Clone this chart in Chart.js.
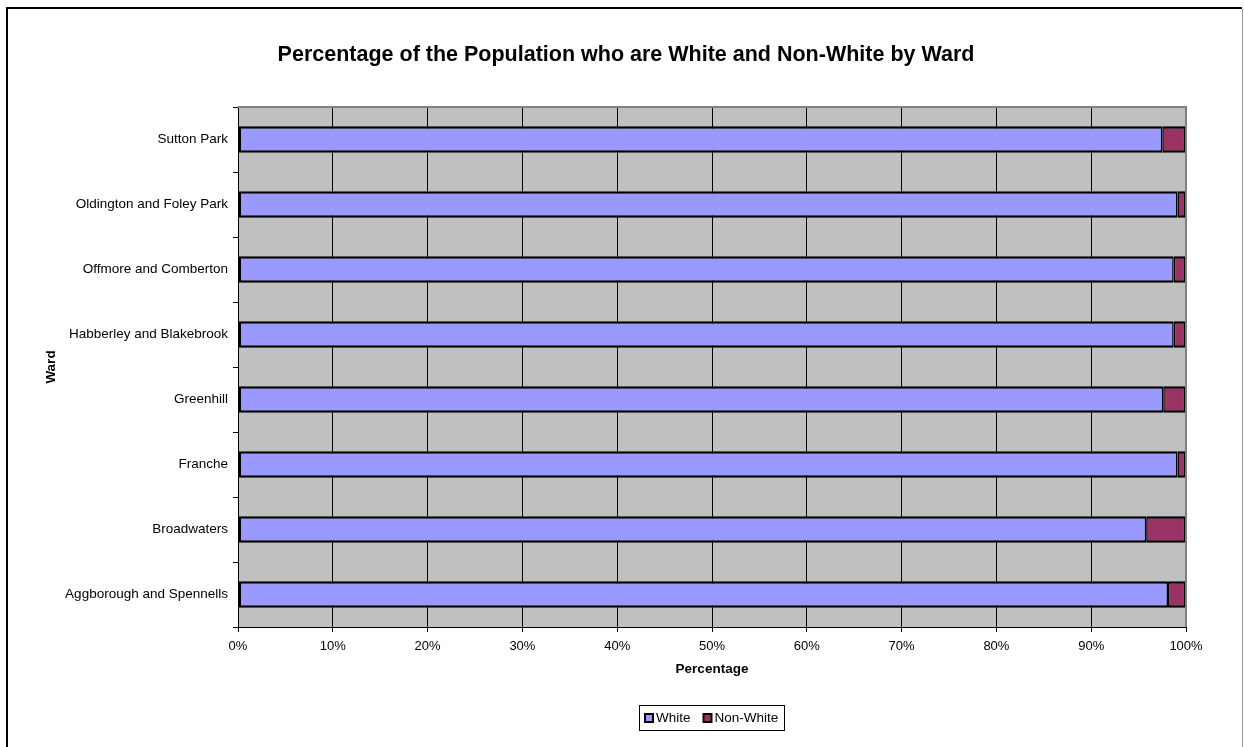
<!DOCTYPE html>
<html>
<head>
<meta charset="utf-8">
<title>White and Non-White by Ward</title>
<script src="https://cdn.jsdelivr.net/npm/chart.js@4"></script>
<style>
    html, body { margin: 0; padding: 0; background: #fff; }
    canvas { display: block; }
</style>
</head>
<body>
<canvas id="wardChart" width="1244" height="747"></canvas>
<script>
// Chart data (top to bottom as shown)
const wards = [
    'Sutton Park',
    'Oldington and Foley Park',
    'Offmore and Comberton',
    'Habberley and Blakebrook',
    'Greenhill',
    'Franche',
    'Broadwaters',
    'Aggborough and Spennells'
];
const whitePct = [97.5, 99.1, 98.7, 98.7, 97.6, 99.1, 95.8, 98.1];
const nonWhitePct = [2.5, 0.9, 1.3, 1.3, 2.4, 0.9, 4.2, 1.9];
const seriesNames = ['White', 'Non-White'];
const chartTitle = 'Percentage of the Population who are White and Non-White by Ward';

const FONT = "'Liberation Sans', Arial, sans-serif";
const colors = ['#9999FF', '#993366'];

// Frame, grey plot background, plot border, title and legend
const decorPlugin = {
    id: 'decor',
    beforeDraw(chart) {
        const ctx = chart.ctx;
        const a = chart.chartArea;
        ctx.save();
        ctx.fillStyle = '#fff';
        ctx.fillRect(0, 0, chart.width, chart.height);
        // outer frame
        ctx.strokeStyle = '#000';
        ctx.lineWidth = 2;
        ctx.beginPath();
        ctx.moveTo(7, chart.height + 5);
        ctx.lineTo(7, 8);
        ctx.lineTo(1242, 8);
        ctx.stroke();
        ctx.strokeStyle = '#999';
        ctx.lineWidth = 1;
        ctx.beginPath();
        ctx.moveTo(1242.5, 9);
        ctx.lineTo(1242.5, chart.height);
        ctx.stroke();
        // plot area
        ctx.fillStyle = '#C0C0C0';
        ctx.fillRect(a.left, a.top, a.right - a.left, a.bottom - a.top);
        ctx.restore();
    },
    afterDraw(chart) {
        const ctx = chart.ctx;
        const a = chart.chartArea;
        ctx.save();
        // grey top and right border of plot area
        ctx.strokeStyle = '#808080';
        ctx.lineWidth = 2;
        ctx.beginPath();
        ctx.moveTo(a.left, a.top);
        ctx.lineTo(a.right, a.top);
        ctx.lineTo(a.right, a.bottom);
        ctx.stroke();

        // title
        ctx.fillStyle = '#000';
        ctx.font = 'bold 21.5px ' + FONT;
        ctx.textAlign = 'center';
        ctx.textBaseline = 'middle';
        ctx.fillText(chartTitle, 626, 55);

        // legend
        ctx.font = '13.5px ' + FONT;
        const sw = 8, gap = 3, itemGap = 13, padX = 6;
        const widths = seriesNames.map(n => ctx.measureText(n).width);
        let total = padX * 2;
        widths.forEach((w, i) => { total += sw + gap + w + (i ? itemGap : 0); });
        const cx = (a.left + a.right) / 2;
        const boxL = Math.round(cx - total / 2), boxT = 705, boxH = 25;
        ctx.strokeStyle = '#000';
        ctx.lineWidth = 1;
        ctx.strokeRect(boxL + 0.5, boxT + 0.5, Math.round(total), boxH);
        let x = boxL + padX;
        const cy = boxT + boxH / 2 + 0.5;
        ctx.textAlign = 'left';
        seriesNames.forEach((n, i) => {
            if (i) x += itemGap;
            ctx.fillStyle = colors[i];
            ctx.fillRect(x, cy - sw / 2, sw, sw);
            ctx.lineWidth = 2;
            ctx.strokeRect(x, cy - sw / 2, sw, sw);
            ctx.fillStyle = '#000';
            ctx.fillText(n, x + sw + gap, cy);
            x += sw + gap + widths[i];
        });
        ctx.restore();
    }
};

const datasets = [whitePct, nonWhitePct].map((vals, i) => ({
    label: seriesNames[i],
    data: vals,
    backgroundColor: colors[i],
    borderColor: '#000',
    borderWidth: i === 0
        ? { top: 2.5, bottom: 2.5, left: 2.5, right: 1.5 }
        : { top: 2.5, bottom: 2.5, left: 1.5, right: 2.5 },
    borderSkipped: false,
    barPercentage: 0.41,
    categoryPercentage: 1
}));

new Chart(document.getElementById('wardChart'), {
    type: 'bar',
    data: { labels: wards, datasets },
    plugins: [decorPlugin],
    options: {
        indexAxis: 'y',
        responsive: false,
        animation: false,
        layout: { padding: { left: 40, top: 107, right: 58, bottom: 66 } },
        plugins: {
            legend: { display: false },
            title: { display: false },
            tooltip: { enabled: false }
        },
        scales: {
            x: {
                stacked: true,
                min: 0,
                max: 100,
                ticks: {
                    stepSize: 10,
                    color: '#000',
                    padding: 7,
                    font: { family: FONT, size: 13 },
                    callback: v => v + '%'
                },
                grid: {
                    color: ctx => ctx.tick && ctx.tick.value === 100 ? '#808080' : '#000',
                    tickColor: '#000',
                    lineWidth: 1,
                    tickLength: 5
                },
                border: { color: '#000', width: 1 },
                title: {
                    display: true,
                    text: 'Percentage',
                    color: '#000',
                    padding: { top: 0, bottom: 4 },
                    font: { family: FONT, size: 13.5, weight: 'bold' }
                },
                afterFit: scale => { scale.height = 54; }
            },
            y: {
                stacked: true,
                ticks: {
                    color: '#000',
                    padding: 5,
                    font: { family: FONT, size: 13.5 }
                },
                grid: {
                    drawOnChartArea: false,
                    color: '#000',
                    tickLength: 5
                },
                border: { color: '#000', width: 1 },
                title: {
                    display: true,
                    text: 'Ward',
                    color: '#000',
                    padding: { top: 3, bottom: 0 },
                    font: { family: FONT, size: 13.5, weight: 'bold' }
                },
                afterFit: scale => { scale.width = 198; }
            }
        }
    }
});
</script>
</body>
</html>
